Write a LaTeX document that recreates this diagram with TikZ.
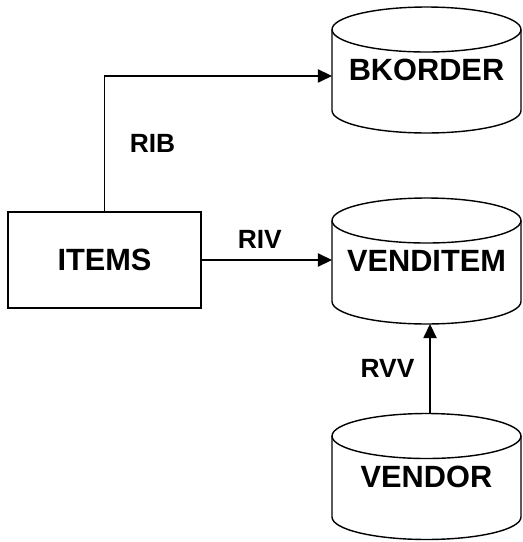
\documentclass[tikz,border=0pt]{standalone}
\usepackage{fontspec}
\setmainfont{Liberation Sans}
\usetikzlibrary{arrows.meta}

\begin{document}
\begin{tikzpicture}[
    x=0.02cm, y=-0.02cm,
    font=\bfseries\fontsize{17.5}{20}\selectfont,
    >={Triangle[length=8pt,width=7.5pt]},
    line/.style={draw, black, line width=0.8pt},
    dbtable/.style={rectangle, minimum width=3.78cm, minimum height=2.52cm,
      inner sep=0pt, outer sep=0pt},
    entity/.style={line, rectangle, minimum width=3.86cm, minimum height=1.92cm},
    rel/.style={font=\bfseries\fontsize{15}{18}\selectfont, inner sep=0pt},
  ]
  \useasboundingbox (0,0) rectangle (522,542);

  % ---- tablas ----
  \node[dbtable] (bkorder) at (426.5,70) {BKORDER};
  \node[dbtable] (venditem) at (426.5,261) {VENDITEM};
  \node[dbtable] (vendor) at (426.5,476.5) {VENDOR};
  \foreach \tbl in {bkorder, venditem, vendor} {
    \draw[line] ([yshift=-0.45cm]\tbl.north) ellipse [x radius=1.89cm, y radius=0.45cm];
    \draw[line] ([yshift=-0.45cm]\tbl.north west) -- ([yshift=0.45cm]\tbl.south west)
      arc[start angle=180, end angle=360, x radius=1.89cm, y radius=0.45cm]
      -- ([yshift=-0.45cm]\tbl.north east);
  }
  \node[entity] (items) at (104.5,260) {ITEMS};

  % ---- relaciones ----
  \draw[line, ->] (items.north) |- ([yshift=-3.4pt]bkorder.west)
    node[rel, pos=0.25, right=14pt] {RIB};
  \draw[line, ->] (items.east) -- (items.east -| venditem.west)
    node[rel, midway, above=6pt, xshift=-4pt] {RIV};
  \draw[line, ->] ([xshift=2pt]vendor.north) -- ([xshift=2pt]venditem.south)
    node[rel, midway, left=8.5pt] {RVV};
\end{tikzpicture}
\end{document}
